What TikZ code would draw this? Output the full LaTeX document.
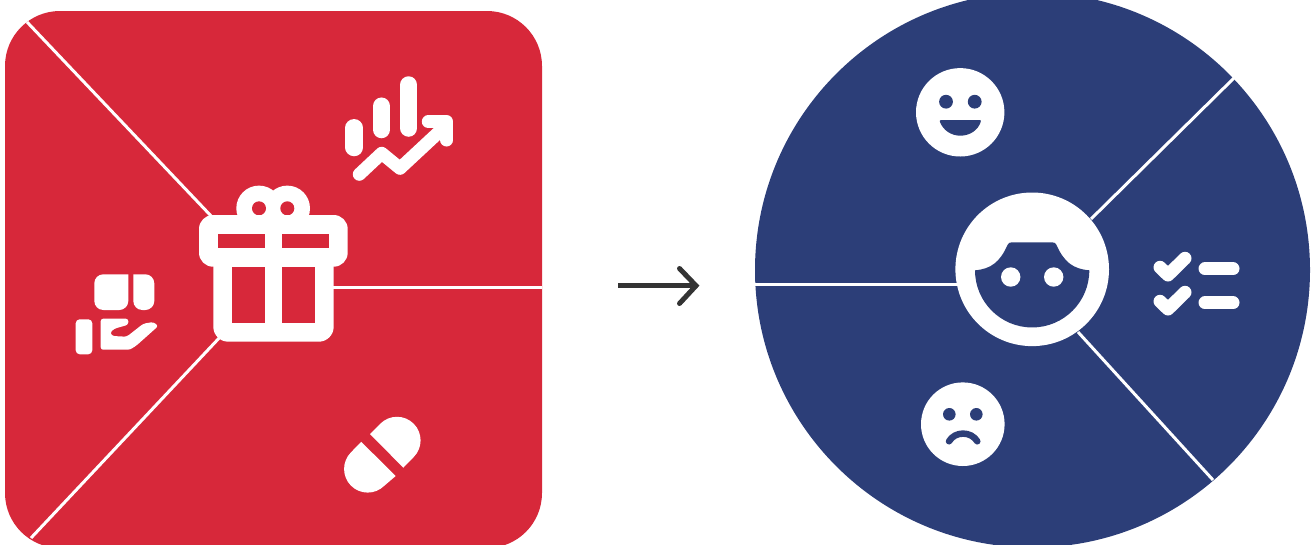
\documentclass[tikz,border=0pt]{standalone}
\usepackage{xcolor}
\usetikzlibrary{calc}
\definecolor{panelred}{HTML}{D7283A}
\definecolor{panelblue}{HTML}{2C3E78}
\definecolor{arrowgray}{HTML}{333333}

\begin{document}
\begin{tikzpicture}[x=1pt, y=1pt, yscale=-1]
  \tikzstyle{spoke}=[draw=white, line width=3pt]
  \tikzstyle{dot}=[circle, fill=white, inner sep=0pt]
  \tikzstyle{bar}=[draw=white, line width=17.5pt, line cap=round]
  \tikzstyle{stroke}=[draw=white, line width=13pt, line cap=round, line join=round]
  \useasboundingbox (0,0) rectangle (1314,544);
  \clip (0,0) rectangle (1314,544);

  % red panel
  \fill[panelred, rounded corners=55pt] (5,11) rectangle (542,548);
  \coordinate (redtl) at (27,22);
  \coordinate (redbl) at (31,538);
  \coordinate (redr) at (542,287.5);
  \coordinate (gifttl) at (213,218);
  \coordinate (giftbl) at (222,335);
  \coordinate (giftr) at (332,287.5);
  \draw[spoke] (redtl) -- (gifttl);
  \draw[spoke] (redbl) -- (giftbl);
  \draw[spoke] (redr) -- (giftr);

  % gift
  \node[dot, minimum size=45.4pt] (bowl) at (259,208.3) {};
  \node[dot, minimum size=45.4pt] (bowr) at (287.3,208.3) {};
  \node[circle, fill=panelred, inner sep=0pt, minimum size=14pt] at (bowl) {};
  \node[circle, fill=panelred, inner sep=0pt, minimum size=14pt] at (bowr) {};
  \fill[white, rounded corners=15pt] (213.3,250) rectangle (333.7,341.7);
  \fill[white, rounded corners=14pt] (199,215) rectangle (347.7,266.7);
  \fill[panelred] (217.7,233.7) rectangle (265,247.7);
  \fill[panelred] (281.7,233.7) rectangle (329,247.7);
  \fill[panelred] (231.7,266.7) rectangle (265,322.7);
  \fill[panelred] (281.7,266.7) rectangle (315,322.7);

  % chart
  \draw[bar] (354.2,127.8) -- (354.2,147.5);
  \draw[bar] (381.5,106.2) -- (381.5,129.5);
  \draw[bar] (408.7,85) -- (408.7,128);
  \draw[stroke] (359.3,174.3) -- (381.7,153.3) -- (400,168.3) -- (443.3,128);
  \draw[stroke] (428.3,121.7) -- (446.7,121.7) -- (446.7,140);

  % hand
  \fill[white, rounded corners=9pt] (128.3,274.3) -- (94.3,274.3) -- (94.3,310) -- (128.3,310) [sharp corners] -- cycle;
  \fill[white, rounded corners=9pt] (133.3,274.3) -- (154.3,274.3) -- (154.3,310) -- (133.3,310) [sharp corners] -- cycle;
  \fill[white, rounded corners=4pt] (75.7,319.3) rectangle (92.3,354.3);
  \fill[white, rounded corners=2.5pt] (100.7,318.7) -- (128.3,318.7) -- (128.3,324.7)
    -- (114.3,328.7) -- (110,332.7) -- (112.3,336) -- (126.7,336.7) -- (143.3,323.7)
    -- (153.3,322) -- (158.3,326) -- (136.7,345.3) -- (130,349.7) -- (100.7,349.7) -- cycle;

  % pill
  \fill[white] (370,434) -- (380.3,423.7) arc[start angle=225, end angle=405, radius=23.6]
    -- (403.3,467.7) -- cycle;
  \fill[white] (361.2,441.8) -- (351,452.3) arc[start angle=225, end angle=45, radius=23.6]
    -- (395.7,476) -- cycle;

  % arrow
  \draw[arrowgray, line width=5pt] (618,285.7) -- (695,285.7);
  \draw[arrowgray, line width=5pt, line cap=round, miter limit=10] (679.5,268.5) -- (696,285.7) -- (679.5,303.5);

  % blue disc
  \fill[panelblue] (1032.5,270) circle[radius=277.5];
  \coordinate (bluetr) at (1234,78);
  \coordinate (bluel) at (755,284.3);
  \coordinate (bluebr) at (1213,480);
  \coordinate (facetr) at (1091,219);
  \coordinate (facel) at (958,284.3);
  \coordinate (facebr) at (1078,332);
  \draw[spoke] (bluetr) -- (facetr);
  \draw[spoke] (bluel) -- (facel);
  \draw[spoke] (bluebr) -- (facebr);

  % face
  \node[dot, minimum size=153.6pt] (face) at (1032.2,269.3) {};
  \fill[panelblue] (975,270.3) arc[start angle=180, end angle=0, radius=57.15]
    .. controls (1073,269) and (1064,262) .. (1056.5,245)
    .. controls (1055.5,243) and (1054.5,242.3) .. (1052,242.3)
    -- (1012,242.3)
    .. controls (1009.5,242.3) and (1008.5,243) .. (1007.5,245)
    .. controls (1000,262) and (991,269) .. (975,270.3) -- cycle;
  \node[dot, minimum size=19.4pt] (facel eye) at (1010.7,277) {};
  \node[dot, minimum size=19.4pt] (facer eye) at (1053.7,277) {};

  % checklist
  \draw[stroke] (1160,267.3) -- (1168,275) -- (1185,258.3);
  \draw[stroke] (1160,301.3) -- (1168,309) -- (1185,292.3);
  \draw[stroke] (1205,268.8) -- (1233,268.8);
  \draw[stroke] (1205,302.8) -- (1233,302.8);

  % happy
  \node[dot, minimum size=88.4pt] (happy) at (960.2,112.3) {};
  \node[circle, fill=panelblue, inner sep=0pt, minimum size=13.8pt] at (946,101.7) {};
  \node[circle, fill=panelblue, inner sep=0pt, minimum size=13.8pt] at (974.7,101.7) {};
  \fill[panelblue] (941,120) -- (979.7,120)
    .. controls (981,120) and (981,121) .. (980.7,122)
    .. controls (978,130) and (970,135.7) .. (960.3,135.7)
    .. controls (951,135.7) and (943,130) .. (940,122)
    .. controls (939.7,121) and (939.7,120) .. (941,120) -- cycle;

  % sad
  \node[dot, minimum size=83.6pt] (sad) at (962.8,424.2) {};
  \node[circle, fill=panelblue, inner sep=0pt, minimum size=12.6pt] at (949.3,414.3) {};
  \node[circle, fill=panelblue, inner sep=0pt, minimum size=12.6pt] at (976.3,414.3) {};
  \draw[panelblue, line width=6.5pt, line cap=round] (949,441.3) .. controls (955,431) and (971,431) .. (977.3,441.3);
\end{tikzpicture}
\end{document}
